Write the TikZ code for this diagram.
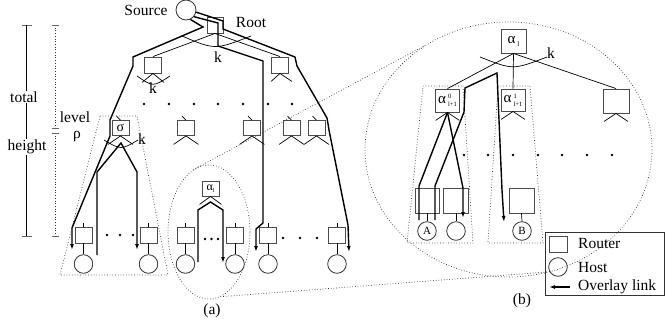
\documentclass[tikz,border=0pt]{standalone}
\usepackage{fontspec}
\setmainfont{Liberation Serif}
\usetikzlibrary{arrows.meta,shapes.geometric}
\newcommand\alphalab[2]{{\fontsize{15}{15}\selectfont α}\kern2pt\raisebox{4.5pt}{\rlap{\fontsize{6.5}{6.5}\selectfont #1}}\raisebox{-3.5pt}{\fontsize{6.5}{6.5}\selectfont #2}}
\begin{document}
\begin{tikzpicture}[x=1pt,y=-1pt,
  rbox/.style={draw=black!70, line width=0.9pt, minimum width=17pt, minimum height=16pt, inner sep=0pt},
  host/.style={draw=black!80, circle, minimum size=18.6pt, inner sep=0pt, line width=0.8pt, font=\fontsize{11}{11}\selectfont},
  ov/.style={line width=1.4pt},
  ova/.style={ov, -{Latex[length=6pt,width=4pt]}},
  tl/.style={line width=0.7pt},
  dline/.style={dotted, line width=0.7pt, black!80},
  lbl/.style={font=\fontsize{15.5}{17}\selectfont, inner sep=0pt},
  dotm/.style={circle, fill, inner sep=0pt, minimum size=2.6pt},
  tick/.style={line width=0.7pt, black!60}
]
\useasboundingbox (0,0) rectangle (665,327);

% ---------- rulers ----------
\coordinate (rt) at (26.7,25); \coordinate (rb) at (26.7,236);
\draw[tick] (22,25) -- (32,25);
\draw[tick] (22,236) -- (32,236);
\draw[line width=0.8pt] (rt) -- (rb);
\node[lbl, fill=white, inner sep=1pt] (total) at (24,97) {total};
\node[lbl, fill=white, inner sep=1pt] (height) at (27,147) {height};
\coordinate (dt) at (55,25); \coordinate (dm1) at (55,128);
\coordinate (dm2) at (55,133); \coordinate (db) at (55,236);
\draw[dline] (dt) -- (dm1);
\draw[dline] (dm2) -- (db);
\foreach \yy in {25,128,133,236} \draw[tick] (52,\yy) -- (59,\yy);
\node[lbl] (level) at (75,117) {level};
\node[lbl] (rho) at (77,137) {ρ};

% ---------- part (a) ----------
\node[host, minimum size=20pt] (src) at (186,10) {};
\node[lbl] (srcl) at (146,10) {Source};
\node[rbox, minimum size=16pt] (root) at (215,25) {};
\node[lbl] (rootl) at (251,22) {Root};

\node[rbox] (l1a) at (153,65) {};
\node[rbox] (l1b) at (280,65) {};
\draw[tl] (root.south) -- (l1a.north);
\draw[tl] (root.south) -- (l1b.north);
\draw[tl] (182,36) .. controls (215,50) .. (251,36);
\node[lbl] (kroot) at (218,57) {k};

\draw[tl] (l1a.south) -- ++(-11,9) (l1a.south) -- ++(11,9);
\draw[tl] (137,76) .. controls (153,87) .. (170,76);
\node[lbl] (kl1) at (153,88) {k};
\draw[tl] (l1b.south) -- ++(-9,8) (l1b.south) -- ++(12,8);

\foreach \xx in {144,169,194,218,243,268,292} \node[dotm] at (\xx,104) {};

% level rho
\node[rbox, minimum width=17pt, minimum height=15pt, font=\fontsize{14}{14}\selectfont] (sig) at (120.5,128) {σ};
\node[rbox, minimum height=15pt] (r2) at (186,128) {};
\node[rbox, minimum height=15pt] (r3) at (252,128) {};
\node[rbox, minimum height=15pt] (r4) at (291.5,128) {};
\node[rbox, minimum height=15pt] (r5) at (316.5,128) {};
\foreach \n in {sig,r2,r3,r4,r5} {
  \draw[tl] (\n.north) -- ++(-4,-4);
  \draw[tl] (\n.south) -- ++(-12.5,8.5) (\n.south) -- ++(12.5,8.5);
}
\draw[tl] (104,140) .. controls (121,150) .. (138,140);
\node[lbl] (ksig) at (142,139) {k};

% bottom row (a)
\foreach \n/\xx in {q1/83.5,q2/148.5,q3/185.5,q4/235,q5/268,q6/337} {
  \node[rbox] (\n) at (\xx,235) {};
  \draw[tl] (\n.north) -- ++(0,-4);
  \node[host] (h\n) at (\xx,264) {};
  \draw[tl] (\n.south) -- (h\n.north);
}
\foreach \xx in {107,120,133} \node[dotm] at (\xx,235) {};
\foreach \xx in {205,211.5,218} \node[dotm] at (\xx,239) {};
\foreach \xx in {283,300,317} \node[dotm] at (\xx,238) {};

% alpha_l in (a)
\node[rbox, minimum width=17pt, minimum height=15pt] (alA) at (210.5,188.5)
  {\fontsize{12}{12}\selectfont α\raisebox{-2.5pt}{\fontsize{6}{6}\selectfont l}};
\draw[tl] (alA.south) -- ++(-11,8) (alA.south) -- ++(11,8);

% overlay links (a)
\draw[ova] (src.-12) -- (223,21) -- (223,29) -- (295,57) -- (297,66) -- (327,118) -- (329,130) -- (348,225) -- (349,252);
\draw[ova] (src.-40) -- (218,23) -- (218,46) -- (263,61) -- (263,223) -- (256,229) -- (256,252);
\draw[ova] (src.-65) -- (203,27) -- (133,57) -- (133,66) -- (110,120) -- (110,136) -- (72,228) -- (72,250);
\draw[ova] (97,255) -- (97,172) -- (121,143) -- (137,172) -- (137,250);
\draw[ova] (198,262) -- (198,210) -- (210.5,202) -- (223,210) -- (223,263);

% dotted groups (a)
\draw[dline] (100,116) -- (137,116) -- (168,275) -- (60,275) -- cycle;
\node[ellipse, draw=black!80, dotted, line width=0.7pt, minimum width=82pt, minimum height=134pt, inner sep=0pt] (ea) at (209,232) {};
\node[lbl] (capa) at (212,311) {(a)};

% ---------- part (b) ----------
\node[ellipse, draw=black!80, dotted, line width=0.7pt, minimum width=287pt, minimum height=255pt, inner sep=0pt] (eb) at (508.5,149.5) {};
\draw[dline] (ea.104) -- (eb.129.8);
\draw[dline] (ea.-80) -- (eb.-71.2);

\node[rbox, minimum width=25pt, minimum height=24pt] (alB) at (513.5,41)
  {\fontsize{15}{15}\selectfont α\kern2pt\raisebox{-3pt}{\fontsize{7}{7}\selectfont l}};
\node[rbox, minimum width=24pt, minimum height=23pt] (a0) at (447.5,100.5) {\alphalab{0}{l+1}};
\node[rbox, minimum width=24pt, minimum height=22pt] (a1) at (513,100) {\alphalab{1}{l+1}};
\node[rbox, minimum width=26pt, minimum height=24pt] (rbx) at (616,101) {};
\draw[tl] (alB.south) -- (a0.north);
\draw[tl] (alB.south) -- (a1.north);
\draw[tl] (alB.south) -- (rbx.north);
\draw[tl] (480,57) .. controls (513,70) .. (547,57);
\node[lbl] (kb) at (551,53) {k};
\foreach \n in {a0,a1,rbx} \draw[tl] (\n.south) -- ++(-12,8) (\n.south) -- ++(12,8);

\foreach \xx in {464,488,513,538,562,587,612} \node[dotm] at (\xx,155) {};

\draw[dline] (423,86) -- (463,86) -- (473,243) -- (407,243) -- cycle;
\draw[dline] (498,86) -- (530,86) -- (543,243) -- (488,243) -- cycle;

\node[rbox, minimum width=24pt, minimum height=25pt] (bA) at (427,200.5) {};
\node[rbox, minimum width=25pt, minimum height=25pt] (b2) at (456,200.5) {};
\node[rbox, minimum width=25pt, minimum height=25pt] (bB) at (521.5,200.5) {};
\node[host] (hA) at (427,231) {A};
\node[host] (h2) at (456,231) {};
\node[host] (hB) at (522,231) {B};
\draw[tl] (bA.south) -- (hA.north);
\draw[tl] (b2.south) -- (h2.north);
\draw[tl] (bB.south) -- (hB.north);

\draw[ov] (a0.south) -- (419,186) -- (419,220);
\draw[ova] (a0.south) -- (463,188) -- (463,218);
\draw[ov] (435,220) -- (435,186) -- (464,112) -- (465,88) -- (497,73) -- (502,190);
\draw[ova] (502,190) -- (504,222);

\node[lbl] (capb) at (522,301) {(b)};

% legend
\draw[line width=0.8pt, black!80] (545,232) rectangle (664.5,295);
\node[rbox, minimum width=18pt, minimum height=16pt] (lgr) at (558,244) {};
\node[lbl, anchor=west] (lgrt) at (578,243) {Router};
\node[host] (lgh) at (558,267) {};
\node[lbl, anchor=west] (lght) at (578,267) {Host};
\coordinate (lga1) at (570,287); \coordinate (lga2) at (549,287);
\draw[ova] (lga1) -- (lga2);
\node[lbl, anchor=west] (lgat) at (578,287) {Overlay link};
\end{tikzpicture}
\end{document}
